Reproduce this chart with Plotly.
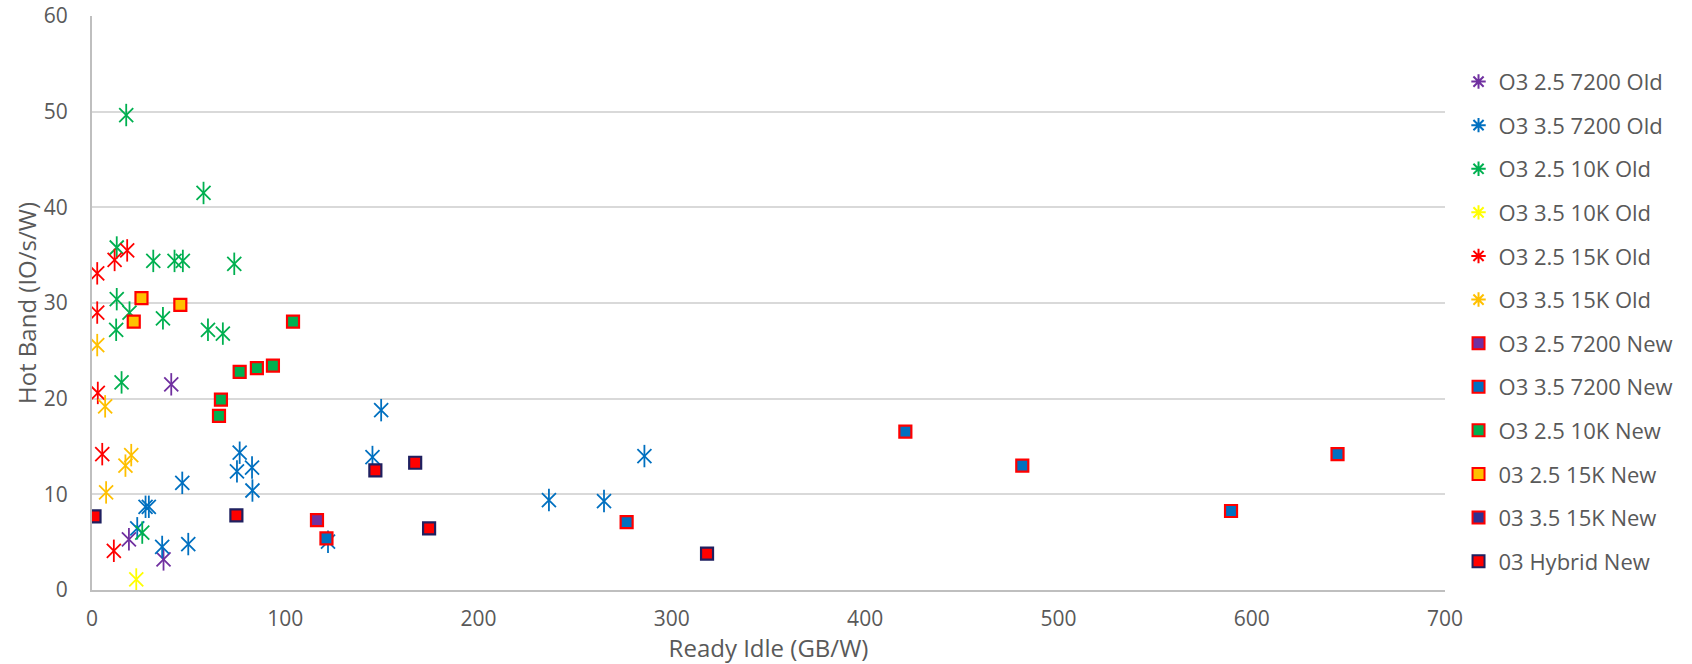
import plotly.graph_objects as go

# ---- data ----
o3_25_7200_old_x = [41.0, 19.1, 37.0]
o3_25_7200_old_y = [21.5, 5.3, 3.2]

o3_35_7200_old_x = [23.4, 27.7, 29.4, 36.3, 49.8, 46.7, 76.4, 75.0, 82.8, 83.0, 122.1,
                    149.6, 145.1, 236.4, 264.9, 285.8]
o3_35_7200_old_y = [6.45, 8.7, 8.7, 4.5, 4.8, 11.2, 14.35, 12.4, 12.8, 10.4, 5.05,
                    18.8, 13.9, 9.4, 9.3, 14.0]

o3_25_10k_old_x = [17.7, 57.7, 12.8, 31.7, 42.7, 47.0, 73.6, 12.8, 19.4, 36.7, 12.5,
                   60.0, 67.7, 15.3, 26.0]
o3_25_10k_old_y = [49.65, 41.5, 35.8, 34.4, 34.4, 34.4, 34.1, 30.4, 29.0, 28.4, 27.2,
                   27.2, 26.8, 21.7, 6.0]

o3_35_10k_old_x = [22.9]
o3_35_10k_old_y = [1.1]

o3_25_15k_old_x = [2.7, 11.7, 18.2, 2.7, 3.0, 5.3, 11.3]
o3_25_15k_old_y = [33.1, 34.5, 35.5, 29.0, 20.6, 14.2, 4.1]

o3_35_15k_old_x = [2.7, 6.8, 20.3, 17.3, 7.3]
o3_35_15k_old_y = [25.6, 19.2, 14.1, 13.0, 10.2]

o3_25_7200_new_x = [116.4]
o3_25_7200_new_y = [7.3]

o3_35_7200_new_x = [121.3, 276.6, 420.8, 481.3, 589.3, 644.4]
o3_35_7200_new_y = [5.4, 7.1, 16.55, 13.0, 8.26, 14.2]

o3_25_10k_new_x = [104.0, 76.4, 85.3, 93.6, 66.7, 65.7]
o3_25_10k_new_y = [28.05, 22.8, 23.2, 23.45, 19.9, 18.2]

o3_25_15k_new_x = [25.6, 45.7, 21.6]
o3_25_15k_new_y = [30.5, 29.8, 28.05]

o3_35_15k_new_x = []
o3_35_15k_new_y = []

hybrid_new_x = [1.3, 74.7, 146.6, 167.2, 174.4, 318.2]
hybrid_new_y = [7.7, 7.8, 12.5, 13.3, 6.45, 3.8]

x_ticks = [0, 100, 200, 300, 400, 500, 600, 700]
y_ticks = [0, 10, 20, 30, 40, 50, 60]

FONT = "Open Sans"
GREY = "#595959"

fig = go.Figure()

def star(name, xs, ys, color):
    # Excel-style asterisk: an "x" plus a vertical bar (six arms)
    fig.add_trace(go.Scatter(
        x=xs, y=ys, mode="markers", name=name, legendgroup=name, showlegend=False,
        marker=dict(symbol="x-thin-open", size=14, color=color,
                    line=dict(color=color, width=1.8)),
        hoverinfo="x+y+name",
    ))
    fig.add_trace(go.Scatter(
        x=xs, y=ys, mode="markers", name=name, legendgroup=name, showlegend=False,
        marker=dict(symbol="line-ns-open", size=16, color=color,
                    line=dict(color=color, width=1.8)),
        hoverinfo="skip",
    ))
    # legend entry
    fig.add_trace(go.Scatter(
        x=[None], y=[None], mode="markers", name=name, legendgroup=name,
        marker=dict(symbol="asterisk-open", size=12, color=color,
                    line=dict(color=color, width=1.7)),
    ))

def square(name, xs, ys, fill, border):
    if not xs:
        xs, ys = [None], [None]
    fig.add_trace(go.Scatter(
        x=xs, y=ys, mode="markers", name=name, legendgroup=name,
        marker=dict(symbol="square", size=12, color=fill,
                    line=dict(color=border, width=2.2)),
    ))

star("O3 2.5 7200 Old", o3_25_7200_old_x, o3_25_7200_old_y, "#7030A0")
star("O3 3.5 7200 Old", o3_35_7200_old_x, o3_35_7200_old_y, "#0070C0")
star("O3 2.5 10K Old", o3_25_10k_old_x, o3_25_10k_old_y, "#00B050")
star("O3 3.5 10K Old", o3_35_10k_old_x, o3_35_10k_old_y, "#FFFF00")
star("O3 2.5 15K Old", o3_25_15k_old_x, o3_25_15k_old_y, "#FF0000")
star("O3 3.5 15K Old", o3_35_15k_old_x, o3_35_15k_old_y, "#FFC000")
square("O3 2.5 7200 New", o3_25_7200_new_x, o3_25_7200_new_y, "#7030A0", "#FF0000")
square("O3 3.5 7200 New", o3_35_7200_new_x, o3_35_7200_new_y, "#0070C0", "#FF0000")
square("O3 2.5 10K New", o3_25_10k_new_x, o3_25_10k_new_y, "#00B050", "#FF0000")
square("03 2.5 15K New", o3_25_15k_new_x, o3_25_15k_new_y, "#FFC000", "#FF0000")
square("03 3.5 15K New", o3_35_15k_new_x, o3_35_15k_new_y, "#2E3192", "#FF0000")
square("03 Hybrid New", hybrid_new_x, hybrid_new_y, "#FF0000", "#1F2060")

fig.update_layout(
    width=1692, height=664,
    margin=dict(l=92, r=247, t=16, b=74),
    paper_bgcolor="white", plot_bgcolor="white",
    font=dict(family=FONT, color=GREY, size=22),
    legend=dict(
        x=1.01, xanchor="left", y=0.922, yanchor="top",
        font=dict(family=FONT, size=22, color=GREY),
        tracegroupgap=12, itemsizing="constant",
        bgcolor="rgba(0,0,0,0)",
    ),
    xaxis=dict(
        range=[0, 700], tickvals=x_ticks, ticktext=[str(v) for v in x_ticks],
        showgrid=False, zeroline=False, automargin=False,
        showline=True, linecolor="#BFBFBF", linewidth=2,
        ticks="", ticklabelstandoff=9,
        tickfont=dict(family=FONT, size=21, color=GREY),
        title=dict(text="Ready Idle (GB/W)", standoff=4,
                   font=dict(family=FONT, size=24, color=GREY)),
    ),
    yaxis=dict(
        range=[0, 60], tickvals=y_ticks, ticktext=[str(v) for v in y_ticks],
        showgrid=True, gridcolor="#D9D9D9", gridwidth=1.5,
        zeroline=False, automargin=False,
        showline=True, linecolor="#BFBFBF", linewidth=2,
        ticks="", ticklabelstandoff=18,
        tickfont=dict(family=FONT, size=21, color=GREY),
        title=dict(text="Hot Band (IO/s/W)", standoff=0,
                   font=dict(family=FONT, size=24, color=GREY)),
    ),
)

fig.write_html(
    "out.html",
    config={"displayModeBar": False},
    post_script="document.body.style.margin='0';document.body.style.padding='0';",
)
